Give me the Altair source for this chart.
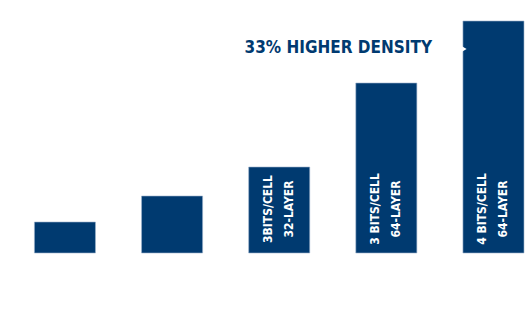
import altair as alt
import pandas as pd

categories = ["A", "B", "C", "D", "E"]
values = [31, 57, 86, 170, 232]
line1 = ["", "", "3BITS/CELL", "3 BITS/CELL", "4 BITS/CELL"]
line2 = ["", "", "32-LAYER", "64-LAYER", "64-LAYER"]
annotation = "33% HIGHER DENSITY"

NAVY = "#003a70"
FONT = "'DejaVu Sans Condensed', 'Roboto Condensed', 'Open Sans Condensed', Roboto, sans-serif"

df = pd.DataFrame({"cat": categories, "value": values, "l1": line1, "l2": line2})

xscale = alt.Scale(domain=categories, paddingInner=0.43, paddingOuter=0.17, align=0.945)
yscale = alt.Scale(domain=[0, 253])
X = alt.X("cat:N", scale=xscale, axis=None)

bars = alt.Chart(df).mark_bar(color=NAVY, stroke="#9db3cc", strokeWidth=0.6).encode(
    x=X, y=alt.Y("value:Q", scale=yscale, axis=None)
)

def line_layer(field, dy):
    return alt.Chart(df).mark_text(
        angle=270, color="white", font=FONT, fontWeight="bold", fontSize=12,
        align="center", baseline="middle", dy=dy
    ).encode(x=X, y=alt.value(209), text=f"{field}:N")

t1 = line_layer("l1", -11)
t2 = line_layer("l2", 10)

ann_df = pd.DataFrame({"t": [annotation]})
ann = alt.Chart(ann_df).mark_text(
    color=NAVY, font=FONT, fontWeight="bold", fontSize=17, align="right", baseline="middle"
).encode(x=alt.value(432), y=alt.value(48), text="t:N")

notch = alt.Chart(ann_df).mark_point(
    shape="triangle-right", filled=True, color="white", size=70, opacity=1
).encode(x=alt.value(463), y=alt.value(49))

chart = alt.layer(bars, t1, t2, ann, notch).properties(
    width=526, height=253,
    autosize=alt.AutoSizeParams(type="none"),
    padding={"left": 0, "top": 0, "right": 0, "bottom": 67},
).configure_view(stroke=None)

chart.save("out.html", embed_options={"renderer": "svg", "actions": False})
